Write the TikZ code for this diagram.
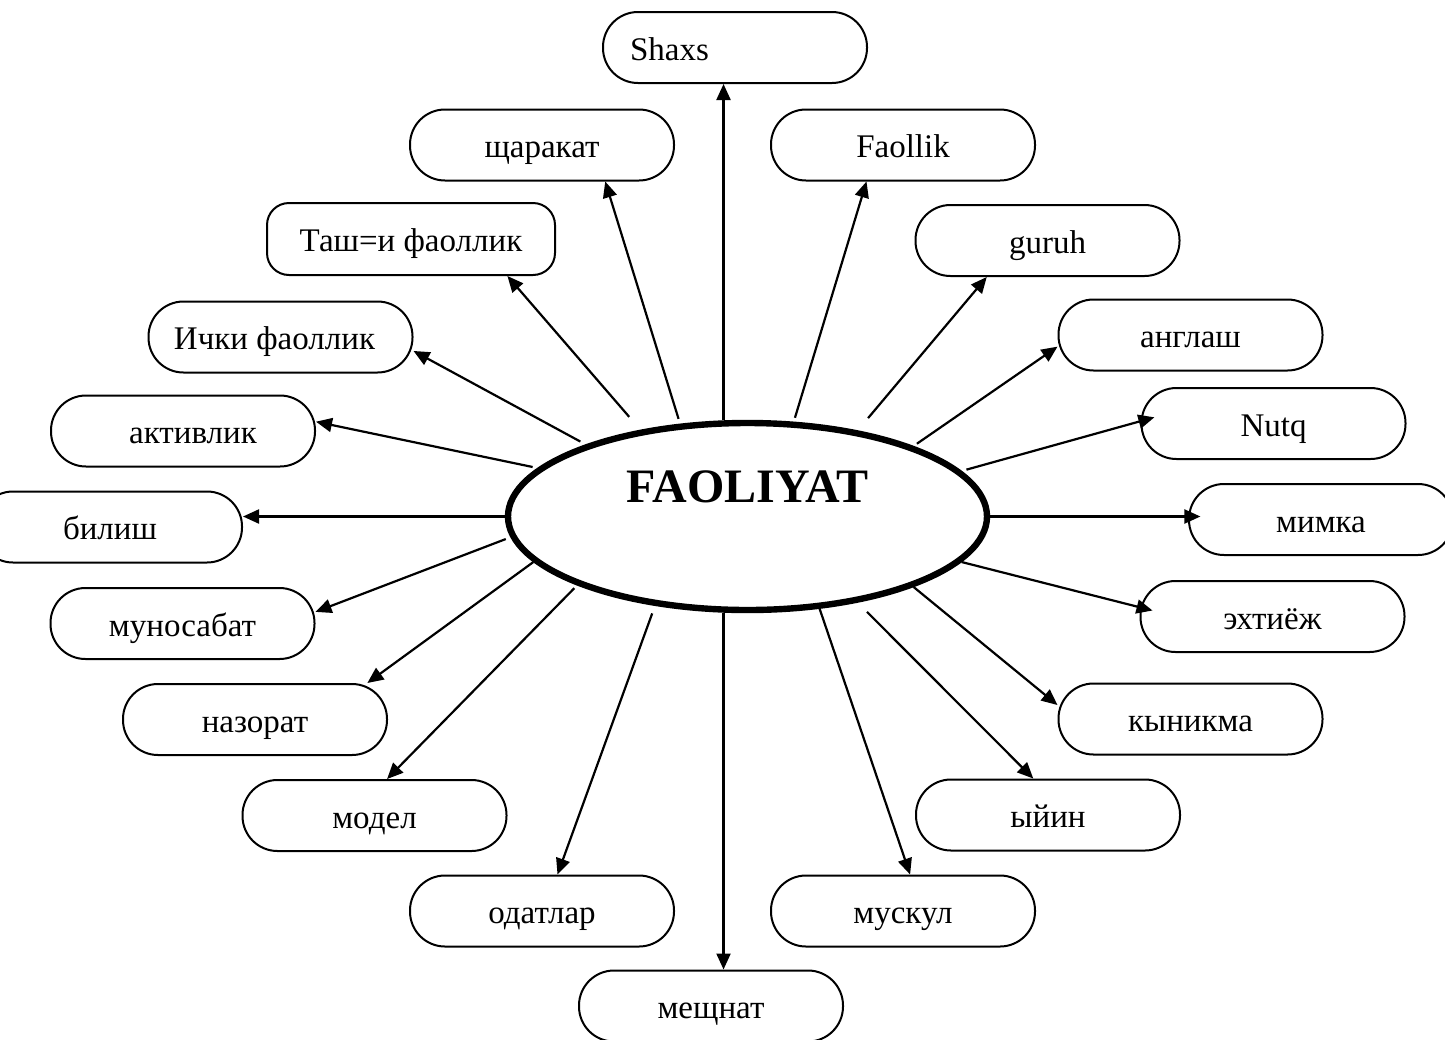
\documentclass[tikz,border=0pt]{standalone}
\usepackage{fontspec}
\setmainfont{Liberation Serif}
\usetikzlibrary{arrows.meta,shapes.geometric}
\newcommand\bxfont{\fontsize{16.5}{20}\selectfont}
\tikzset{
  box/.style={draw, line width=1pt, rounded corners=17.5pt, minimum width=132pt,
    minimum height=35.5pt, inner sep=0pt, text height=12.5pt, text depth=0pt, font=\bxfont},
  arr/.style={line width=1.1pt, -{Triangle[length=8pt,width=7pt]}},
  centre/.style={ellipse, draw, line width=3.2pt, minimum width=239.5pt, minimum height=93.5pt,
    inner sep=0pt, text height=17pt, text depth=31.5pt, font=\fontsize{24}{28}\selectfont\bfseries}
}
\begin{document}
\begin{tikzpicture}[x=0.5pt,y=-0.5pt]
\useasboundingbox (0,0) rectangle (1445,1039);
\clip (0,0) rectangle (1445,1039);
\fill[white] (0,0) rectangle (1445,1039);

\node[centre] (c) at (747.5,516.5) {FAOLIYAT};

\node[box] (b1) at (735,47.5) {\makebox[105pt][l]{Shaxs}};
\node[box] (b2) at (542,145) {щаракат};
\node[box] (b3) at (903,145) {Faollik};
\node[box, minimum width=144pt, minimum height=36pt, rounded corners=11pt] (b4) at (411,239) {Таш=и фаоллик};
\node[box] (b5) at (1047.5,240.5) {guruh};
\node[box] (b6) at (280.5,337) {Ички фаоллик\kern6pt};
\node[box] (b7) at (1190.5,335) {англаш};
\node[box] (b8) at (183,431) {\kern10pt активлик};
\node[box] (b9) at (1273.5,423.5) {Nutq};
\node[box] (b10) at (110,527) {билиш};
\node[box] (b11) at (1321,519.5) {мимка};
\node[box] (b12) at (182.5,623.5) {муносабат};
\node[box] (b13) at (1272.5,616.5) {эхтиёж};
\node[box] (b14) at (255,719.5) {назорат};
\node[box] (b15) at (1190.5,719) {кыникма};
\node[box] (b16) at (374.5,815.5) {модел};
\node[box] (b17) at (1048,815) {ыйин};
\node[box] (b18) at (542,911) {одатлар};
\node[box] (b19) at (903,911) {мускул};
\node[box] (b20) at (711,1006) {мещнат};

\draw[arr] (c.104.51) -- (c.104.51 |- b1.south);
\draw[arr, shorten <=2.5pt] (c.126.92) -- (b2.-30.96);
\draw[arr, shorten <=2pt] (c.64.26) -- (b3.-135);
\draw[arr, shorten <=8.5pt] (c.141.02) -- (b4.-21.19);
\draw[arr, shorten <=8pt] (c.38.92) -- (b5.-149.6);
\draw[arr, shorten <=3pt] (c.156.55) -- (b6.-6.36);
\draw[arr, shorten <=2pt] (c.23.95) -- (b7.185.21);
\draw[arr, shorten <=2.5pt] (c.167.06) -- (b8.4.76);
\draw[arr, shorten <=2.5pt, shorten >=-7.2pt] (c.12.99) -- (b9.179.57);
\draw[arr] (c.180) -- (c.180 -| b10.east);
\draw[arr, shorten >=-6.2pt] (c.0) -- (c.0 -| b11.west);
\draw[arr, shorten <=2.5pt] (c.185.58) -- (b12.5.77);
\draw[arr, shorten >=-6.7pt] (c.-12.23) -- (b13.176.63);
\draw[arr] (c.192.18) -- (b14.18.67);
\draw[arr] (c.-23.11) -- (b15.174.83);
\draw[arr, shorten <=2pt] (c.202.87) -- (b16.71.57);
\draw[arr, shorten <=6.5pt] (c.-38.34) -- (b17.112.07);
\draw[arr, shorten <=4pt] (c.224.41) -- (b18.67.93);
\draw[arr] (c.-52.98) -- (b19.79.29);
\draw[arr] (c.-104.66) -- (c.-104.66 |- b20.north);
\end{tikzpicture}
\end{document}
